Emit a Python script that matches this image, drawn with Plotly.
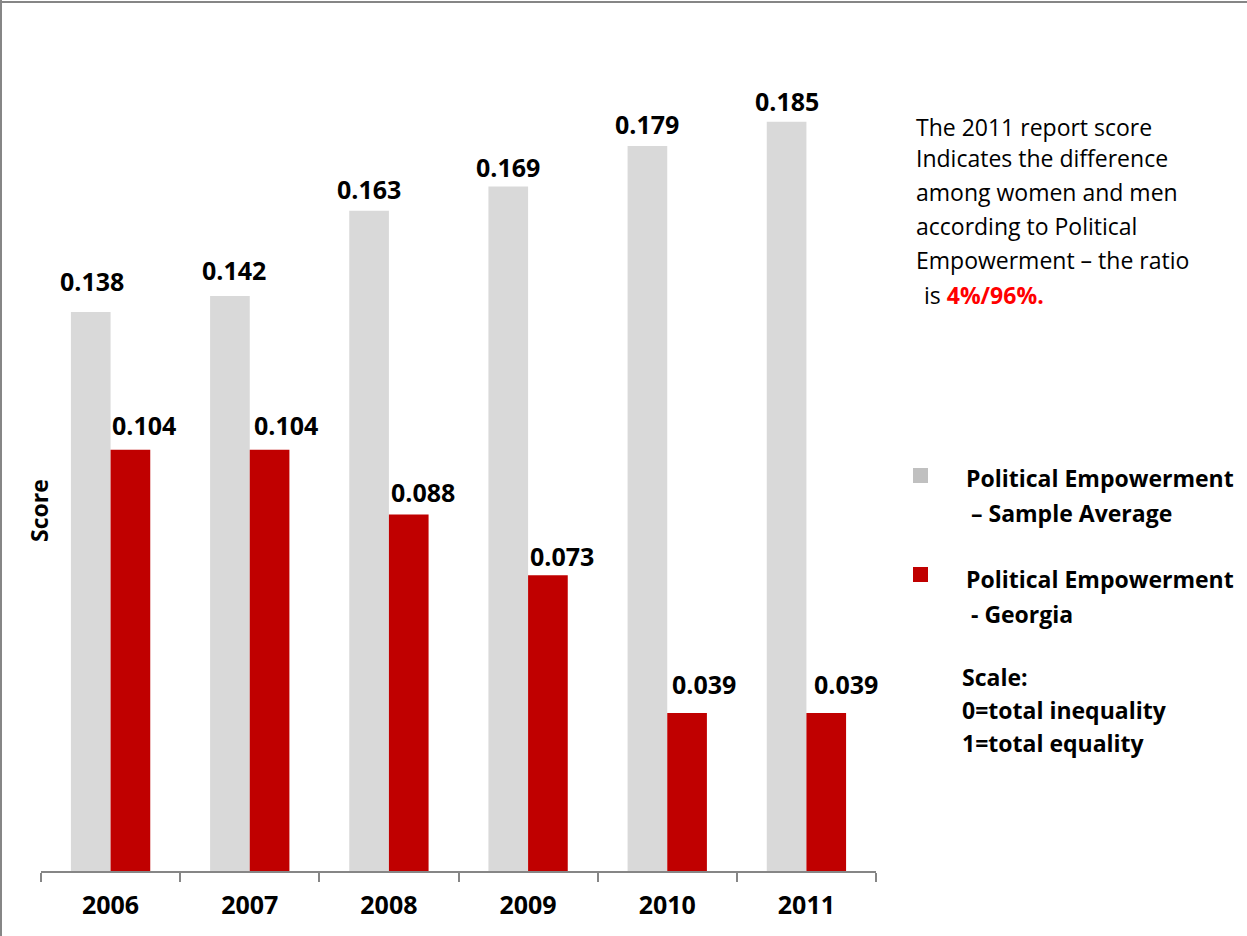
import plotly.graph_objects as go

# Data
years = ["2006", "2007", "2008", "2009", "2010", "2011"]
sample_average = [0.138, 0.142, 0.163, 0.169, 0.179, 0.185]
georgia = [0.104, 0.104, 0.088, 0.073, 0.039, 0.039]

series_names = ["Political Empowerment – Sample Average", "Political Empowerment - Georgia"]
gray = "#D9D9D9"
red = "#C00000"
axis_gray = "#868686"
font_family = "Open Sans"

# hand-placed label offsets (pixels) relative to each bar top
avg_label_dx = [1, 4, 0, 0, 0, 0]
avg_label_dy = [31, 26, 22, 20, 22, 21]
geo_label_dx = [14, 16, 14, 14, 17, 20]
geo_label_dy = [25, 25, 23, 19, 29, 29]

W, H = 1247, 936
ML, MR, MT, MB = 41, 371, 61, 65
plot_w = W - ML - MR
plot_h = H - MT - MB


def px_x(px):
    return (px - ML) / plot_w


def px_y(py):
    return (H - MB - py) / plot_h


BARGAP = 0.43
half = (1 - BARGAP) / 4  # offset of each bar centre within a group

fig = go.Figure()
fig.add_trace(go.Bar(x=years, y=sample_average, name=series_names[0],
                     marker=dict(color=gray, line=dict(width=0)), showlegend=False))
fig.add_trace(go.Bar(x=years, y=georgia, name=series_names[1],
                     marker=dict(color=red, line=dict(width=0)), showlegend=False))

annotations = []
# value labels above bars
for i in range(len(years)):
    for val, off, dx, dy in (
        (sample_average[i], -half, avg_label_dx[i], avg_label_dy[i]),
        (georgia[i], half, geo_label_dx[i], geo_label_dy[i]),
    ):
        annotations.append(dict(
            x=i + off, y=val, xref="x", yref="y", text=f"<b>{val:.3f}</b>",
            showarrow=False, yanchor="middle", xanchor="center",
            xshift=dx, yshift=dy,
            font=dict(family=font_family, size=25, color="black")))

# y-axis title
annotations.append(dict(
    x=px_x(39), y=px_y(511), xref="paper", yref="paper", text="<b>Score</b>",
    textangle=-90, showarrow=False, xanchor="center", yanchor="middle",
    font=dict(family=font_family, size=23, color="black")))

# explanatory note
note_lines = [
    ("The 2011 report score", 914, 127),
    ("Indicates the difference", 914, 158),
    ("among women and men", 914, 192),
    ("according to Political", 914, 226),
    ("Empowerment – the ratio", 914, 260),
    ("is <span style='color:#FF0000'><b>4%/96%.</b></span>", 922, 295),
]
for txt, x, y in note_lines:
    annotations.append(dict(
        x=px_x(x), y=px_y(y), xref="paper", yref="paper", text=txt,
        showarrow=False, xanchor="left", yanchor="middle",
        font=dict(family=font_family, size=23, color="black")))

# legend text and scale note
legend_lines = [
    ("<b>Political Empowerment</b>", 964, 478),
    ("<b>– Sample Average</b>", 969, 513),
    ("<b>Political Empowerment</b>", 964, 579),
    ("<b>- Georgia</b>", 969, 614),
    ("<b>Scale:</b>", 960, 677),
    ("<b>0=total inequality</b>", 960, 710),
    ("<b>1=total equality</b>", 960, 743),
]
for txt, x, y in legend_lines:
    annotations.append(dict(
        x=px_x(x), y=px_y(y), xref="paper", yref="paper", text=txt,
        showarrow=False, xanchor="left", yanchor="middle",
        font=dict(family=font_family, size=23, color="black")))

shapes = [
    # legend swatches
    dict(type="rect", xref="paper", yref="paper",
         x0=px_x(913), x1=px_x(928), y0=px_y(483), y1=px_y(468),
         fillcolor="#C0C0C0", line=dict(width=0)),
    dict(type="rect", xref="paper", yref="paper",
         x0=px_x(913), x1=px_x(928), y0=px_y(582), y1=px_y(567),
         fillcolor=red, line=dict(width=0)),
    # frame on top and left edges
    dict(type="line", xref="paper", yref="paper",
         x0=px_x(0), x1=px_x(W), y0=px_y(2), y1=px_y(2),
         line=dict(color=axis_gray, width=2)),
    dict(type="line", xref="paper", yref="paper",
         x0=px_x(1), x1=px_x(1), y0=px_y(0), y1=px_y(H),
         line=dict(color=axis_gray, width=2)),
]

fig.update_layout(
    width=W, height=H,
    margin=dict(l=ML, r=MR, t=MT, b=MB, autoexpand=False),
    paper_bgcolor="white", plot_bgcolor="white",
    barmode="group", bargap=BARGAP, bargroupgap=0,
    annotations=annotations, shapes=shapes,
    font=dict(family=font_family, color="black"),
)
fig.update_xaxes(
    type="category", range=[-0.5, len(years) - 0.5],
    showline=True, linecolor=axis_gray, linewidth=1.5,
    ticks="outside", tickson="boundaries", ticklen=9, tickcolor=axis_gray,
    tickwidth=1.5, ticklabelstandoff=11, showgrid=False, zeroline=False,
    automargin=False,
    tickfont=dict(family=font_family, size=25, color="black", weight="bold"),
)
fig.update_yaxes(range=[0, 0.2], visible=False, showgrid=False, automargin=False)

fig.write_html("out.html")
